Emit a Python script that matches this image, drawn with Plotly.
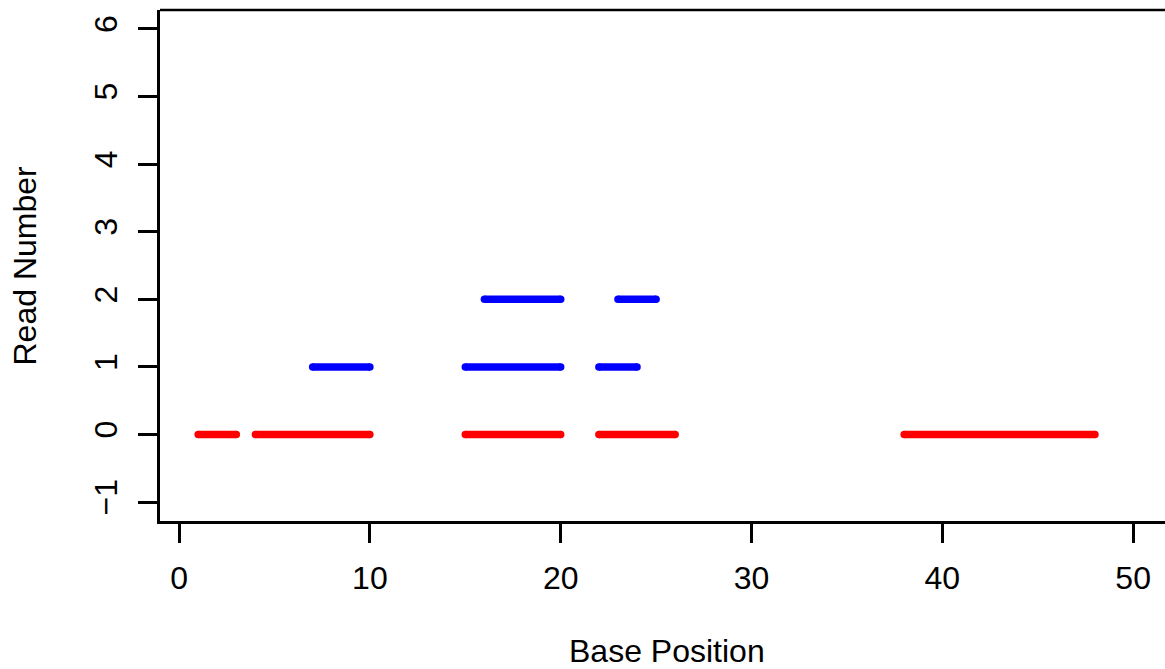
import plotly.graph_objects as go

# Read segments: (start, end, read number)
red_starts = [1, 4, 15, 22, 38]
red_ends = [3, 10, 20, 26, 48]
red_rows = [0, 0, 0, 0, 0]

blue_starts = [7, 15, 22, 16, 23]
blue_ends = [10, 20, 24, 20, 25]
blue_rows = [1, 1, 1, 2, 2]

x_ticks = [0, 10, 20, 30, 40, 50]
y_ticks = [-1, 0, 1, 2, 3, 4, 5, 6]

FONT = "Liberation Sans, Arial, Helvetica, sans-serif"
LW = 7.5


def seg_xy(starts, ends, rows):
    xs, ys = [], []
    for s, e, r in zip(starts, ends, rows):
        xs += [s, e, None]
        ys += [r, r, None]
    return xs, ys


fig = go.Figure()
for starts, ends, rows, col in [(red_starts, red_ends, red_rows, "#FF0000"),
                                (blue_starts, blue_ends, blue_rows, "#0000FF")]:
    xs, ys = seg_xy(starts, ends, rows)
    fig.add_trace(go.Scatter(x=xs, y=ys, mode="lines+markers",
                             line=dict(color=col, width=LW),
                             marker=dict(color=col, size=LW, line=dict(width=0)),
                             connectgaps=False, showlegend=False, hoverinfo="skip"))

fig.update_layout(
    width=1165, height=669,
    margin=dict(l=160, r=0, t=10, b=148),
    plot_bgcolor="white", paper_bgcolor="white",
    font=dict(family=FONT, size=32, color="black"),
    xaxis=dict(range=[-1.0, 51.67], tickvals=x_ticks, ticks="outside", ticklen=19,
               tickwidth=2.5, tickcolor="black", showline=True, linecolor="black",
               linewidth=2.5, showgrid=False, zeroline=False,
               tickfont=dict(size=32, family=FONT), ticklabelstandoff=8),
    yaxis=dict(range=[-1.28, 6.28], tickvals=y_ticks, ticks="outside", ticklen=19,
               tickwidth=2.5, tickcolor="black", showline=True, linecolor="black",
               linewidth=2.5, showgrid=False, zeroline=False, tickangle=-90,
               tickfont=dict(size=32, family=FONT), ticklabelstandoff=8),
    shapes=[dict(type="line", xref="paper", yref="paper", x0=0, x1=1.01, y0=1, y1=1,
                 line=dict(color="black", width=2.5))],
    annotations=[
        dict(text="Base Position", xref="paper", yref="paper", x=(666.7 - 160) / 1005,
             y=(521 - 651) / 511, xanchor="center", yanchor="middle", showarrow=False,
             font=dict(size=32, family=FONT)),
        dict(text="Read Number", xref="paper", yref="paper", x=(24 - 160) / 1005,
             y=0.5, xanchor="center", yanchor="middle", textangle=-90, showarrow=False,
             font=dict(size=32, family=FONT)),
    ],
)

fig.write_html("out.html")
